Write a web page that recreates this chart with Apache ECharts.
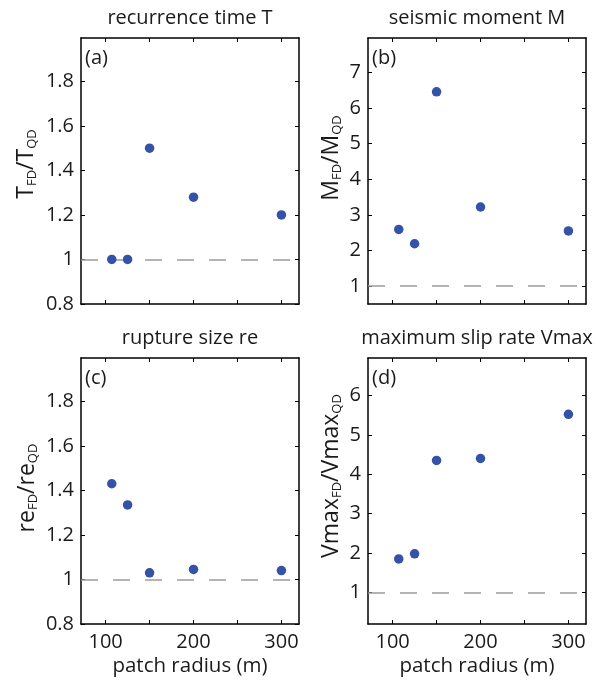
<!DOCTYPE html>
<html><head><meta charset="utf-8">
<script src="https://cdn.jsdelivr.net/npm/echarts@6/dist/echarts.min.js"></script>
<style>html,body{margin:0;padding:0;background:#fff}#c{width:597px;height:680px}</style>
</head><body><div id="c"></div>
<script>
// ---- data ----
const radius = [107, 125, 150, 200, 300];
const recurrenceRatio = [1.0, 1.0, 1.50, 1.28, 1.20];
const momentRatio = [2.59, 2.19, 6.45, 3.22, 2.55];
const ruptureRatio = [1.43, 1.335, 1.03, 1.045, 1.04];
const vmaxRatio = [1.85, 1.98, 4.35, 4.40, 5.52];
const referenceLevel = 1;
const xTicks = [100, 150, 200, 250, 300];
const xTickLabels = [100, 200, 300];
const yTicksRatio = [0.8, 1, 1.2, 1.4, 1.6, 1.8];
const yTicksMoment = [1, 2, 3, 4, 5, 6, 7];
const yTicksVmax = [1, 2, 3, 4, 5, 6];
const titles = ['recurrence time T', 'seismic moment M', 'rupture size re', 'maximum slip rate Vmax'];
const panelTags = ['(a)', '(b)', '(c)', '(d)'];
const xName = 'patch radius (m)';
const yNames = [['T', 'T'], ['M', 'M'], ['re', 're'], ['Vmax', 'Vmax']];

// ---- layout / style ----
const FONT = "'Open Sans', 'DejaVu Sans', sans-serif";
const TXT = '#1a1a1a';
const PT = '#3352a8';
const panels = [
  { left: 81, top: 38, data: recurrenceRatio, yTicks: yTicksRatio, ymin: 0.8, ymax: 1.995, xlab: false, nameX: 26, nameY: 164 },
  { left: 368, top: 38, data: momentRatio, yTicks: yTicksMoment, ymin: 0.5, ymax: 7.96, xlab: false, nameX: 331, nameY: 158 },
  { left: 81, top: 358, data: ruptureRatio, yTicks: yTicksRatio, ymin: 0.8, ymax: 1.995, xlab: true, nameX: 27, nameY: 488 },
  { left: 368, top: 358, data: vmaxRatio, yTicks: yTicksVmax, ymin: 0.2, ymax: 6.95, xlab: true, nameX: 331, nameY: 476 }
];
const W = 218, H = 266;
const XMIN = 72, XMAX = 320;

const axisLine = { show: true, onZero: false, lineStyle: { color: '#000', width: 1.5 } };
const grids = [], xAxes = [], yAxes = [], series = [], graphics = [];

panels.forEach((p, i) => {
  grids.push({ left: p.left, top: p.top, width: W, height: H, containLabel: false });
  const xBase = {
    gridIndex: i, type: 'value', min: XMIN, max: XMAX,
    axisLine: axisLine, splitLine: { show: false },
    axisTick: { show: true, inside: true, length: 4, customValues: xTicks, lineStyle: { color: '#000', width: 1 } }
  };
  xAxes.push(Object.assign({}, xBase, {
    position: 'bottom',
    axisLabel: { show: p.xlab, customValues: xTickLabels, fontSize: 20, fontFamily: FONT, color: TXT, margin: 8 },
    name: p.xlab ? xName : '', nameLocation: 'middle', nameGap: 32,
    nameTextStyle: { fontSize: 20.5, fontFamily: FONT, color: TXT }
  }));
  xAxes.push(Object.assign({}, xBase, { position: 'top', axisLabel: { show: false } }));
  const yBase = {
    gridIndex: i, type: 'value', min: p.ymin, max: p.ymax,
    axisLine: axisLine, splitLine: { show: false },
    axisTick: { show: true, inside: true, length: 4, customValues: p.yTicks, lineStyle: { color: '#000', width: 1 } }
  };
  yAxes.push(Object.assign({}, yBase, {
    position: 'left',
    axisLabel: { show: true, customValues: p.yTicks, fontSize: 20, fontFamily: FONT, color: TXT, margin: 7 }
  }));
  yAxes.push(Object.assign({}, yBase, { position: 'right', axisLabel: { show: false } }));

  series.push({
    type: 'scatter', xAxisIndex: 2 * i, yAxisIndex: 2 * i,
    data: radius.map((r, k) => [r, p.data[k]]),
    symbol: 'circle', symbolSize: 9.5,
    itemStyle: { color: PT, opacity: 1 },
    z: 5,
    markLine: {
      silent: true, symbol: 'none', animation: false,
      label: { show: false },
      lineStyle: { type: [17, 15], color: '#9c9c9c', width: 1.5 },
      data: [{ yAxis: referenceLevel }]
    }
  });

  graphics.push({
    type: 'text', x: p.left + W / 2, y: p.top - 20,
    style: { text: titles[i], font: '20px ' + FONT, fill: TXT, align: 'center', verticalAlign: 'middle', textAlign: 'center', textVerticalAlign: 'middle' }
  });
  graphics.push({
    type: 'text', x: p.left + 4, y: p.top + 20,
    style: { text: panelTags[i], font: '20px ' + FONT, fill: TXT, align: 'left', verticalAlign: 'middle', textAlign: 'left', textVerticalAlign: 'middle' }
  });
  const n = yNames[i];
  graphics.push({
    type: 'text', x: p.nameX, y: p.nameY, rotation: Math.PI / 2,
    style: {
      text: '{n|' + n[0] + '}{s|FD}{n|/' + n[1] + '}{s|QD}',
      align: 'center', verticalAlign: 'middle', textAlign: 'center', textVerticalAlign: 'middle',
      fill: TXT,
      rich: {
        n: { fontSize: 23, fontFamily: FONT, fill: TXT, color: TXT },
        s: { fontSize: 13, fontFamily: FONT, fill: TXT, color: TXT, padding: [12, 0, 0, 0] }
      }
    }
  });
});

const chart = echarts.init(document.getElementById('c'), null, { renderer: 'canvas' });
chart.setOption({
  animation: false,
  backgroundColor: '#fff',
  grid: grids, xAxis: xAxes, yAxis: yAxes, series: series,
  graphic: graphics
});
</script>
</body></html>
